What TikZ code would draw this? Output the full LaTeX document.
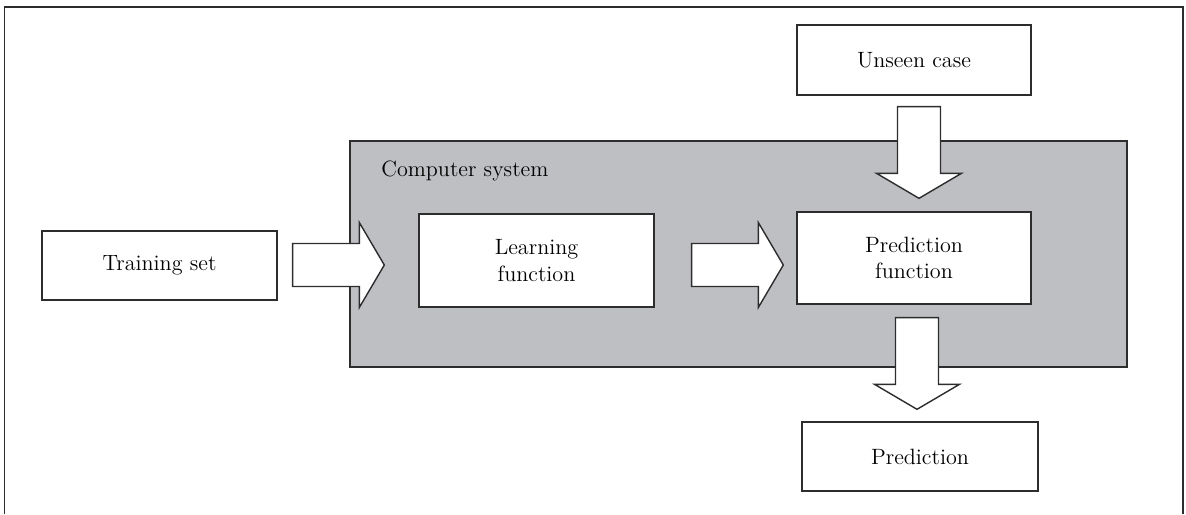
\documentclass[tikz,border=0pt]{standalone}
\usepackage{tikz}
\usetikzlibrary{calc}

\definecolor{sysgray}{RGB}{190,191,195}
\definecolor{edge}{RGB}{45,45,45}

\tikzset{
  box/.style={draw=edge,line width=0.8pt,fill=white,align=center,
    font=\fontsize{12.6}{15}\selectfont,inner sep=0pt},
  fatarrowstyle/.style={draw=edge,line width=0.8pt,fill=white,line join=miter}
}

% block arrow between two named coordinates (tail, tip)
\newcommand{\fatarrow}[2]{%
  \coordinate (fa-h) at ($(#2)!0.5cm!(#1)$);
  \draw[fatarrowstyle] ($(#1)!0.43cm!90:(#2)$) -- ($(fa-h)!0.43cm!90:(#2)$)
    -- ($(fa-h)!0.85cm!90:(#2)$) -- (#2) -- ($(fa-h)!0.85cm!-90:(#2)$)
    -- ($(fa-h)!0.43cm!-90:(#2)$) -- ($(#1)!0.43cm!-90:(#2)$) -- cycle;
}

\begin{document}
\begin{tikzpicture}[x=0.02cm,y=-0.02cm]
  \useasboundingbox (0,0) rectangle (1186,514);
  % outer frame, open at the bottom
  \draw[edge,line width=1.1pt] (4.5,514) -- (4.5,7) -- (1183,7) -- (1183,514);

  % the computer system
  \node[draw=edge,line width=0.8pt,fill=sysgray,minimum width=15.54cm,
    minimum height=4.52cm,inner sep=0pt] (system) at (738.5,254) {};
  \node[anchor=base west,inner sep=0pt,font=\fontsize{12.6}{15}\selectfont]
    (syslabel) at (381,176) {Computer system};

  \node[box,minimum width=4.7cm,minimum height=1.38cm] (train) at (159.5,265.5) {Training set};
  \node[box,minimum width=4.7cm,minimum height=1.86cm] (learn) at (536.5,260.5) {Learning\\function};
  \node[box,minimum width=4.68cm,minimum height=1.84cm] (predf) at (914,258) {Prediction\\function};
  \node[box,minimum width=4.68cm,minimum height=1.4cm] (unseen) at (914,60) {Unseen case};
  \node[box,minimum width=4.72cm,minimum height=1.38cm] (pred) at (920,456.5) {Prediction};

  % arrow ends
  \coordinate (a1s) at ($(train.east)+(15,-0.5)$);
  \coordinate (a1e) at ($(train.east -| learn.west)+(-34,-0.5)$);
  \coordinate (a2s) at ($(learn.east)+(37,4.5)$);
  \coordinate (a2e) at ($(learn.east -| predf.west)+(-13,4.5)$);
  \coordinate (a3s) at ($(unseen.south)+(5,11)$);
  \coordinate (a3e) at ($(unseen.south |- predf.north)+(5,-13)$);
  \coordinate (a4s) at ($(predf.south)+(3,13)$);
  \coordinate (a4e) at ($(predf.south |- pred.north)+(3,-12)$);

  \fatarrow{a1s}{a1e}
  \fatarrow{a2s}{a2e}
  \fatarrow{a3s}{a3e}
  \fatarrow{a4s}{a4e}
\end{tikzpicture}
\end{document}
